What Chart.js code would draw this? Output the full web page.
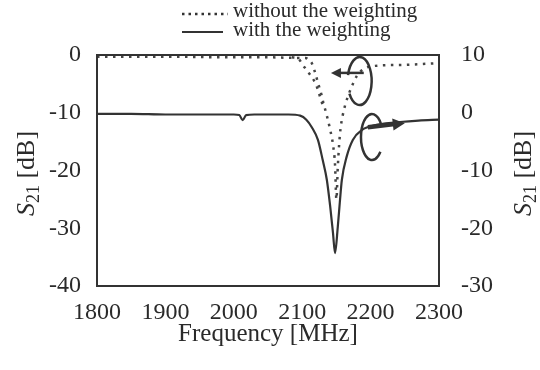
<!DOCTYPE html>
<html>
<head>
<meta charset="utf-8">
<script src="https://cdn.jsdelivr.net/npm/chart.js@4/dist/chart.umd.min.js"></script>
<style>
  html, body { margin: 0; padding: 0; background: #fff; }
  #s21Chart { display: block; }
</style>
</head>
<body>
<canvas id="s21Chart" width="540" height="370"></canvas>
<script>
// S21 vs frequency, with and without the weighting
const freqTicks = [1800, 1900, 2000, 2100, 2200, 2300];

// with the weighting (right axis, dB)
const freqWith = [1800, 1850, 1900, 1950, 2000, 2008, 2013, 2018, 2030, 2060, 2080, 2097, 2106, 2114, 2123, 2130, 2136, 2141, 2145, 2148, 2152, 2155, 2158, 2165, 2174, 2187, 2209, 2243, 2270, 2300];
const s21With = [-0.2, -0.2, -0.3, -0.3, -0.3, -0.4, -1.3, -0.4, -0.3, -0.3, -0.3, -0.5, -1.2, -2.5, -4.7, -8.2, -11.6, -16.3, -20.8, -24.3, -19.8, -15.5, -11.6, -7.6, -4.7, -3.0, -2.1, -1.6, -1.35, -1.2];

// without the weighting (left axis, dB)
const freqWithout = [1800, 1900, 2000, 2050, 2090, 2105, 2110, 2114, 2119, 2123, 2128, 2131, 2136, 2141, 2145, 2148, 2150, 2152, 2154, 2156, 2159, 2163, 2168, 2173, 2180, 2190, 2205, 2250, 2300];
const s21Without = [-0.3, -0.3, -0.4, -0.4, -0.5, -0.5, -0.9, -1.4, -3.1, -4.8, -6.8, -8.3, -10.5, -13.0, -15.5, -19.0, -25.0, -19.5, -15.5, -12.8, -10.6, -8.6, -6.8, -5.3, -3.6, -2.4, -1.9, -1.7, -1.4];

// second branch of the unweighted response near 2100 MHz
const freqWithoutB = [2085, 2092, 2097, 2101, 2106, 2112, 2118, 2123, 2127, 2131];
const s21WithoutB = [-0.4, -0.5, -1.0, -1.8, -2.5, -3.5, -4.6, -6.0, -7.6, -9.0];

const ink = '#333';
const serif = '"Liberation Serif", "Times New Roman", serif';

function zip(xs, ys) {
  return xs.map((x, i) => ({ x: x, y: ys[i] }));
}

// frame around the plot area
const framePlugin = {
  id: 'frame',
  afterDatasetsDraw(chart) {
    const a = chart.chartArea;
    const ctx = chart.ctx;
    ctx.save();
    ctx.strokeStyle = ink;
    ctx.lineWidth = 2;
    ctx.strokeRect(a.left, a.top, a.right - a.left, a.bottom - a.top);
    ctx.restore();
  }
};

function arrowHead(ctx, x0, y0, x1, y1, len, half) {
  const ang = Math.atan2(y1 - y0, x1 - x0);
  ctx.beginPath();
  ctx.moveTo(x1, y1);
  ctx.lineTo(x1 - len * Math.cos(ang) + half * Math.sin(ang), y1 - len * Math.sin(ang) - half * Math.cos(ang));
  ctx.lineTo(x1 - len * Math.cos(ang) - half * Math.sin(ang), y1 - len * Math.sin(ang) + half * Math.cos(ang));
  ctx.closePath();
  ctx.fill();
}

// curly arrows telling which axis each curve belongs to
const axisArrows = {
  id: 'axisArrows',
  afterDatasetsDraw(chart) {
    const { ctx, scales } = chart;
    const x = scales.x, yl = scales.y, yr = scales.y1;
    ctx.save();
    ctx.strokeStyle = ink;
    ctx.fillStyle = ink;
    ctx.lineWidth = 2.5;

    // left-pointing: dotted curve -> left axis
    let cx = x.getPixelForValue(2184), cy = yl.getPixelForValue(-4.5);
    ctx.beginPath();
    ctx.ellipse(cx, cy, 12, 24, 0, Math.PI + 0.25, 3 * Math.PI - 0.55);
    ctx.stroke();
    let ax0 = x.getPixelForValue(2190), ax1 = x.getPixelForValue(2142), ay = yl.getPixelForValue(-3.1);
    ctx.beginPath();
    ctx.moveTo(ax0, ay);
    ctx.lineTo(ax1 + 6, ay);
    ctx.stroke();
    arrowHead(ctx, ax0, ay, ax1, ay, 10, 5);

    // right-pointing: solid curve -> right axis
    cx = x.getPixelForValue(2202); cy = yr.getPixelForValue(-4.2);
    ctx.beginPath();
    ctx.ellipse(cx, cy, 11, 23, 0, -0.6, 0.7, true);
    ctx.stroke();
    ax0 = x.getPixelForValue(2196); ax1 = x.getPixelForValue(2250);
    const ay0 = yr.getPixelForValue(-2.5), ay1 = yr.getPixelForValue(-1.8);
    ctx.lineWidth = 4.5;
    ctx.beginPath();
    ctx.moveTo(ax0, ay0);
    ctx.lineTo(ax1 - 8, ay1 + 0.6);
    ctx.stroke();
    arrowHead(ctx, ax0, ay0, ax1, ay1, 12, 6);
    ctx.restore();
  }
};

// "S21 [dB]" axis titles with italic S and subscript 21
function drawS21(ctx, cx, cy) {
  const big = '26px ' + serif, small = '18px ' + serif;
  ctx.save();
  ctx.translate(cx, cy);
  ctx.rotate(-Math.PI / 2);
  ctx.fillStyle = '#2a2a2a';
  ctx.textBaseline = 'alphabetic';
  ctx.font = 'italic ' + big;
  const wS = ctx.measureText('S').width;
  ctx.font = small;
  const w21 = ctx.measureText('21').width;
  ctx.font = big;
  const wDb = ctx.measureText(' [dB]').width;
  let px = -(wS + w21 + wDb) / 2;
  const base = 9;
  ctx.font = 'italic ' + big;
  ctx.fillText('S', px, base);
  px += wS;
  ctx.font = small;
  ctx.fillText('21', px, base + 5);
  px += w21;
  ctx.font = big;
  ctx.fillText(' [dB]', px, base);
  ctx.restore();
}

const axisTitles = {
  id: 'axisTitles',
  afterDraw(chart) {
    const a = chart.chartArea;
    const mid = (a.top + a.bottom) / 2 + 3;
    drawS21(chart.ctx, 25, mid);
    drawS21(chart.ctx, 522, mid);
  }
};

// two-line legend above the plot
const legendLines = {
  id: 'legendLines',
  afterDraw(chart) {
    const ctx = chart.ctx;
    const sets = chart.data.datasets;
    ctx.save();
    ctx.fillStyle = '#2a2a2a';
    ctx.font = '21px ' + serif;
    ctx.textBaseline = 'alphabetic';
    ctx.strokeStyle = ink;

    ctx.lineWidth = 2.5;
    ctx.setLineDash([2.5, 4]);
    ctx.beginPath();
    ctx.moveTo(182, 14);
    ctx.lineTo(228, 14);
    ctx.stroke();
    ctx.fillText(sets[0].label, 233, 17);

    ctx.setLineDash([]);
    ctx.lineWidth = 2;
    ctx.beginPath();
    ctx.moveTo(182, 32);
    ctx.lineTo(223, 32);
    ctx.stroke();
    ctx.fillText(sets[2].label, 233, 36);
    ctx.restore();
  }
};

const ctx = document.getElementById('s21Chart').getContext('2d');
const chart = new Chart(ctx, {
  type: 'line',
  data: {
    datasets: [
      {
        label: 'without the weighting',
        data: zip(freqWithout, s21Without),
        yAxisID: 'y',
        borderColor: '#444',
        borderWidth: 2.5,
        borderDash: [2.5, 5.5],
        pointRadius: 0,
        cubicInterpolationMode: 'monotone'
      },
      {
        label: 'without the weighting (branch)',
        data: zip(freqWithoutB, s21WithoutB),
        yAxisID: 'y',
        borderColor: '#444',
        borderWidth: 2.5,
        borderDash: [2.5, 5.5],
        pointRadius: 0,
        cubicInterpolationMode: 'monotone'
      },
      {
        label: 'with the weighting',
        data: zip(freqWith, s21With),
        yAxisID: 'y1',
        borderColor: ink,
        borderWidth: 2.2,
        pointRadius: 0,
        cubicInterpolationMode: 'monotone'
      }
    ]
  },
  options: {
    responsive: false,
    animation: false,
    layout: { padding: { top: 55 } },
    plugins: {
      legend: { display: false },
      tooltip: { enabled: false }
    },
    scales: {
      x: {
        type: 'linear',
        min: 1800,
        max: 2300,
        afterBuildTicks: (scale) => { scale.ticks = freqTicks.map(v => ({ value: v })); },
        afterFit: (scale) => { scale.height = 84; },
        grid: { display: false, drawTicks: false },
        border: { display: false },
        ticks: {
          color: '#2a2a2a',
          font: { family: serif, size: 24 },
          padding: 12,
          maxRotation: 0,
          callback: (v) => String(v)
        },
        title: {
          display: true,
          text: 'Frequency [MHz]',
          color: '#2a2a2a',
          font: { family: serif, size: 25 },
          padding: { top: 0, bottom: 21 }
        }
      },
      y: {
        position: 'left',
        min: -40,
        max: 0,
        afterFit: (scale) => { scale.width = 97; },
        grid: { display: false, drawTicks: false },
        border: { display: false },
        ticks: { stepSize: 10, color: '#2a2a2a', font: { family: serif, size: 24 }, padding: 16 }
      },
      y1: {
        position: 'right',
        min: -30,
        max: 10,
        afterFit: (scale) => { scale.width = 101; },
        grid: { display: false, drawTicks: false },
        border: { display: false },
        ticks: { stepSize: 10, color: '#2a2a2a', font: { family: serif, size: 24 }, padding: 22 }
      }
    }
  },
  plugins: [framePlugin, axisArrows, axisTitles, legendLines]
});
</script>
</body>
</html>
